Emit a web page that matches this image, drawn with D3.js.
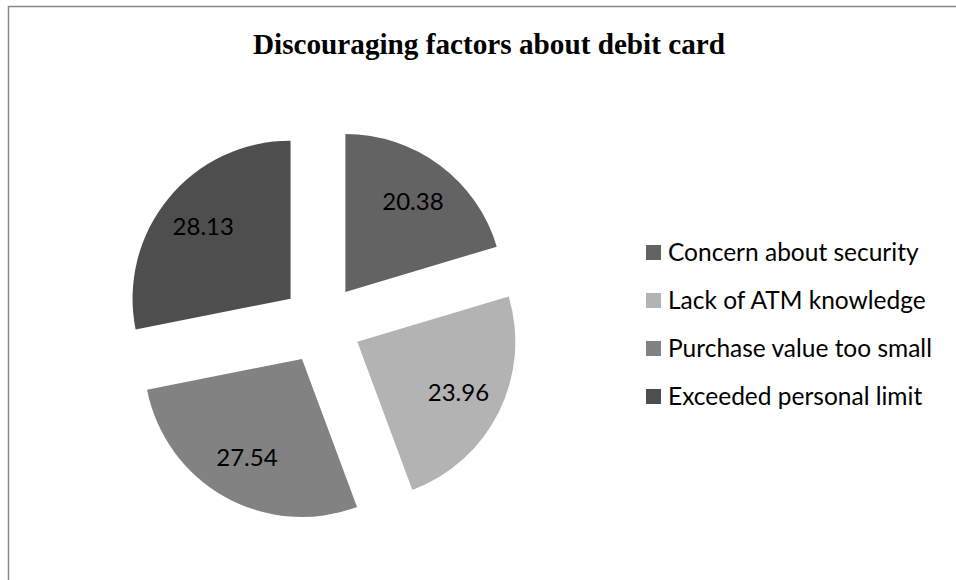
<!DOCTYPE html>
<html>
<head>
<meta charset="utf-8">
<script src="https://cdn.jsdelivr.net/npm/d3@7"></script>
<style>
  html, body { margin: 0; padding: 0; background: #fff; }
  svg { display: block; }
</style>
</head>
<body>
<svg id="chart" width="956" height="580"></svg>
<script>
// Survey shares (percent) of reasons that discourage debit card use
const categories = ["Concern about security", "Lack of ATM knowledge", "Purchase value too small", "Exceeded personal limit"];
const values = [20.38, 23.96, 27.54, 28.13];
const sliceColors = ["#636363", "#b3b3b3", "#828282", "#4e4e4e"];
const titleText = "Discouraging factors about debit card";

const svg = d3.select("#chart");

// Chart-area frame (runs off the right and bottom edges)
svg.append("rect")
  .attr("x", 8.5).attr("y", 6.5)
  .attr("width", 1000).attr("height", 700)
  .attr("fill", "none")
  .attr("stroke", "#878787")
  .attr("stroke-width", 1.5);

// Title
svg.append("text")
  .attr("x", 489).attr("y", 54)
  .attr("text-anchor", "middle")
  .attr("font-family", "'Liberation Serif', 'Times New Roman', serif")
  .attr("font-weight", "bold")
  .attr("font-size", 28.5)
  .attr("textLength", 472)
  .attr("lengthAdjust", "spacingAndGlyphs")
  .attr("fill", "#000")
  .text(titleText);

// Exploded pie
const cx = 321.5, cy = 324;
const radius = 158;
const explode = 40;
const labelRadius = 113;

const pie = d3.pie().sort(null).value(d => d.value);
const arcs = pie(categories.map((c, i) => ({ name: c, value: values[i], color: sliceColors[i] })));

const arc = d3.arc().innerRadius(0).outerRadius(radius);
const labelArc = d3.arc().innerRadius(labelRadius).outerRadius(labelRadius);

const g = svg.append("g").attr("transform", `translate(${cx},${cy})`);

const slices = g.selectAll("g.slice")
  .data(arcs)
  .enter().append("g")
  .attr("class", "slice")
  .attr("transform", d => {
    const mid = (d.startAngle + d.endAngle) / 2;
    return `translate(${explode * Math.sin(mid)},${-explode * Math.cos(mid)})`;
  });

slices.append("path")
  .attr("d", arc)
  .attr("fill", d => d.data.color);

slices.append("text")
  .attr("transform", d => `translate(${labelArc.centroid(d)})`)
  .attr("text-anchor", "middle")
  .attr("dy", "0.35em")
  .attr("font-family", "Lato, 'Open Sans', sans-serif")
  .attr("font-size", 24)
  .attr("fill", "#000")
  .text(d => d.data.value.toFixed(2));

// Legend
const legend = svg.append("g").attr("transform", "translate(646,252)");
const rowStep = 48;

const rows = legend.selectAll("g.row")
  .data(categories)
  .enter().append("g")
  .attr("class", "row")
  .attr("transform", (d, i) => `translate(0,${i * rowStep})`);

rows.append("rect")
  .attr("x", 0).attr("y", -7)
  .attr("width", 15).attr("height", 15)
  .attr("fill", (d, i) => sliceColors[i]);

rows.append("text")
  .attr("x", 22).attr("y", 0)
  .attr("dy", "0.35em")
  .attr("font-family", "Lato, 'Open Sans', sans-serif")
  .attr("font-size", 24.5)
  .attr("fill", "#000")
  .text(d => d);
</script>
</body>
</html>
